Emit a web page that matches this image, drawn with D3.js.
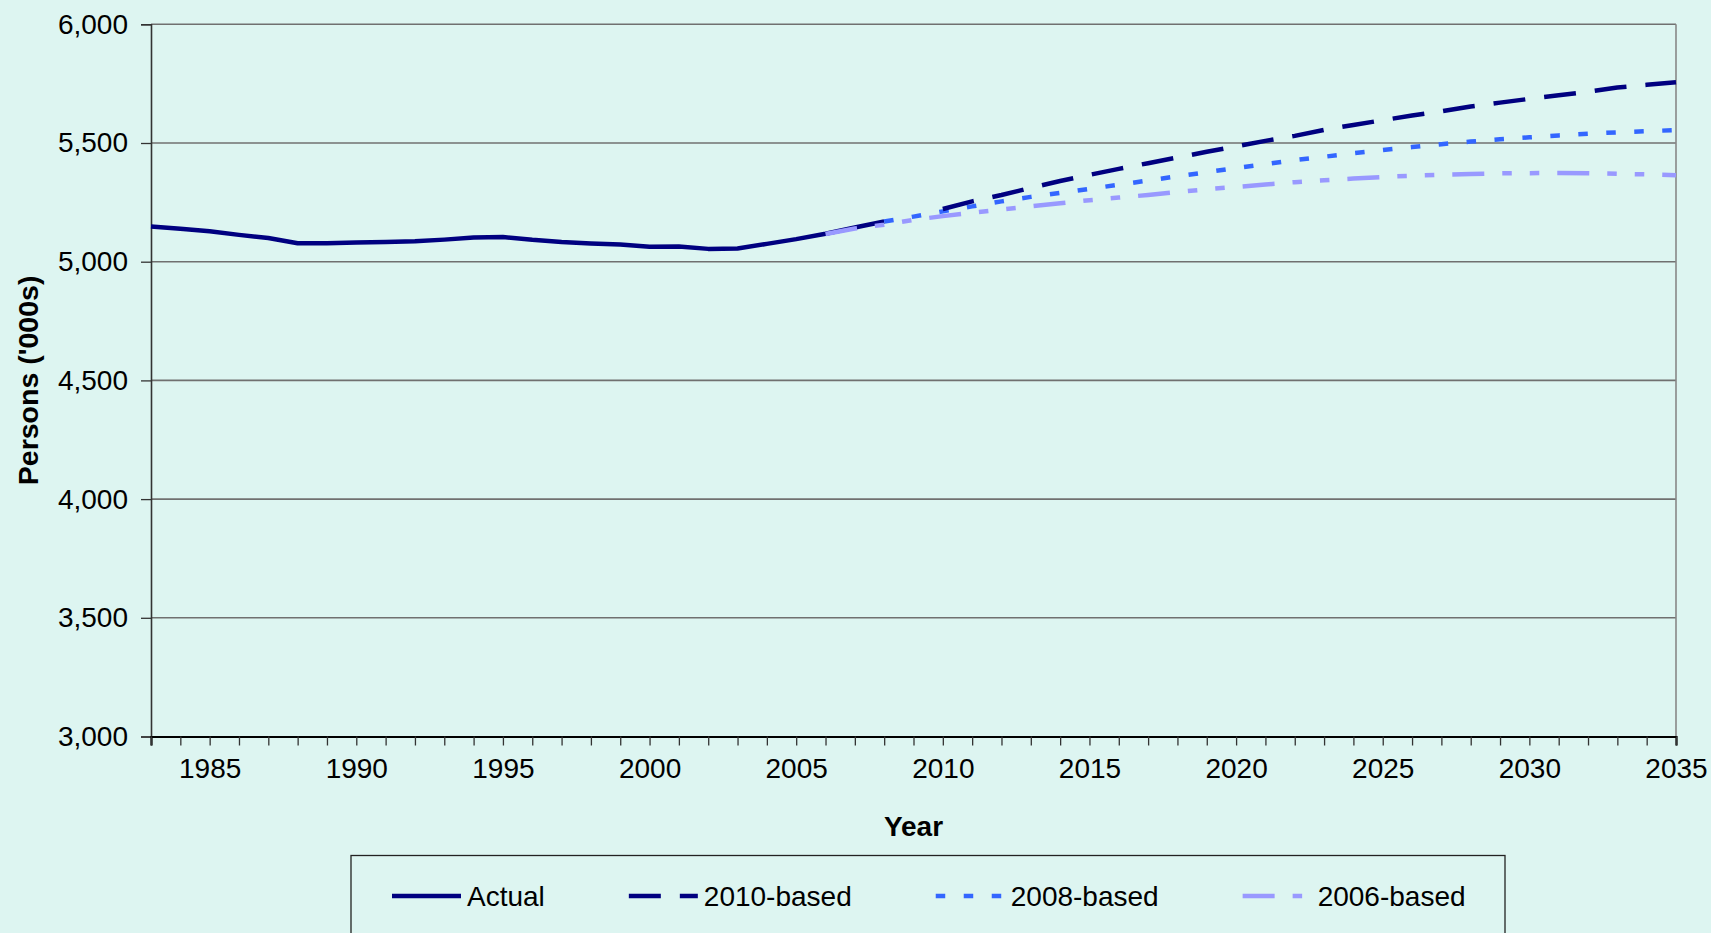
<!DOCTYPE html>
<html>
<head>
<meta charset="utf-8">
<script src="https://cdn.jsdelivr.net/npm/d3@7/dist/d3.min.js"></script>
<style>
  html, body { margin: 0; padding: 0; background: #DDF5F1; }
  svg { display: block; }
  text { font-family: "Liberation Sans", Arial, sans-serif; fill: #000; }
</style>
</head>
<body>
<svg id="chart" width="1711" height="933"></svg>
<script>
// ---- Data ----
const actualYears = [1983,1984,1985,1986,1987,1988,1989,1990,1991,1992,1993,1994,1995,1996,1997,1998,1999,2000,2001,2002,2003,2004,2005,2006,2007,2008];
const actualValues = [5148,5139,5128,5113,5100,5078,5078,5081,5083,5086,5093,5102,5104,5092,5083,5077,5072,5063,5064,5054,5056,5075,5095,5118,5144,5169];

const proj2010Years = [2010,2011,2012,2013,2014,2015,2016,2017,2018,2019,2020,2021,2022,2023,2024,2025,2026,2027,2028,2029,2030,2031,2032,2033,2034,2035];
const proj2010Values = [5222,5254,5281,5311,5340,5366,5391,5415,5439,5463,5486,5509,5530,5555,5576,5596,5616,5634,5654,5670,5686,5701,5716,5734,5745,5756];

const proj2008Years = [2008,2009,2010,2011,2012,2013,2014,2015,2016,2017,2018,2019,2020,2021,2022,2023,2024,2025,2026,2027,2028,2029,2030,2031,2032,2033,2034,2035];
const proj2008Values = [5169,5190,5212,5233,5254,5273,5290,5307,5324,5342,5360,5377,5395,5411,5428,5442,5457,5470,5483,5495,5506,5516,5524,5532,5539,5545,5550,5554];

const proj2006Years = [2006,2007,2008,2009,2010,2011,2012,2013,2014,2015,2016,2017,2018,2019,2020,2021,2022,2023,2024,2025,2026,2027,2028,2029,2030,2031,2032,2033,2034,2035];
const proj2006Values = [5117,5140,5156,5176,5192,5206,5220,5233,5246,5259,5270,5281,5294,5305,5315,5325,5335,5343,5350,5357,5362,5366,5369,5372,5373,5374,5373,5370,5368,5364];

const seriesNames = ["Actual","2010-based","2008-based","2006-based"];
const yTickValues = [3000,3500,4000,4500,5000,5500,6000];
const xLabelYears = [1985,1990,1995,2000,2005,2010,2015,2020,2025,2030,2035];
const xDomain = [1983, 2035];
const yDomain = [3000, 6000];
const xTitle = "Year";
const yTitle = "Persons ('000s)";

// ---- Styles ----
const styles = [
  { color: "#000080", dash: null },
  { color: "#000080", dash: "32,19" },
  { color: "#3366FF", dash: "9.5,18.5" },
  { color: "#9999FF", dash: "32,18,9.5,18,9.5,18" }
];

const series = [
  { years: actualYears, values: actualValues },
  { years: proj2010Years, values: proj2010Values },
  { years: proj2008Years, values: proj2008Values },
  { years: proj2006Years, values: proj2006Values }
];

const svg = d3.select("#chart");
const W = 1711, H = 933;
const m = { left: 151, right: W - 1676, top: 24.3, bottom: H - 736.5 };
const FS = 28;

const x = d3.scaleLinear().domain(xDomain).range([m.left, W - m.right]);
const y = d3.scaleLinear().domain(yDomain).range([H - m.bottom, m.top]);

svg.append("rect").attr("width", W).attr("height", H).attr("fill", "#DDF5F1");

// gridlines
svg.append("g")
  .selectAll("line")
  .data(yTickValues.filter(v => v > yDomain[0]))
  .join("line")
  .attr("x1", x(xDomain[0])).attr("x2", x(xDomain[1]))
  .attr("y1", d => y(d)).attr("y2", d => y(d))
  .attr("stroke", "#707070").attr("stroke-width", 1.6);

// right border of plot
svg.append("line")
  .attr("x1", x(xDomain[1])).attr("x2", x(xDomain[1]))
  .attr("y1", y(yDomain[1])).attr("y2", y(yDomain[0]))
  .attr("stroke", "#888").attr("stroke-width", 1.6);

// y axis
const yAxis = d3.axisLeft(y)
  .tickValues(yTickValues)
  .tickSize(10)
  .tickPadding(13)
  .tickFormat(d3.format(","));
const gy = svg.append("g").attr("transform", `translate(${m.left},0)`).call(yAxis);
gy.select(".domain").attr("stroke", "#333").attr("stroke-width", 1.6);
gy.selectAll(".tick line").attr("stroke", "#333").attr("stroke-width", 1.3);
gy.selectAll(".tick text").attr("font-size", FS).attr("font-family", "Liberation Sans, Arial, sans-serif").attr("fill", "#000");

// x axis: ticks every year, labels every 5 years
const allYears = d3.range(xDomain[0], xDomain[1] + 1);
const xAxis = d3.axisBottom(x)
  .tickValues(allYears)
  .tickSize(9)
  .tickPadding(13)
  .tickFormat(d => xLabelYears.includes(d) ? String(d) : "");
const gx = svg.append("g").attr("transform", `translate(0,${y(yDomain[0])})`).call(xAxis);
gx.select(".domain").attr("stroke", "#000").attr("stroke-width", 2.2);
gx.selectAll(".tick line").attr("stroke", "#333").attr("stroke-width", 1.3);
gx.selectAll(".tick text").attr("font-size", FS).attr("font-family", "Liberation Sans, Arial, sans-serif").attr("fill", "#000");

// titles
svg.append("text")
  .attr("x", (x(xDomain[0]) + x(xDomain[1])) / 2)
  .attr("y", 826)
  .attr("dy", "0.35em")
  .attr("text-anchor", "middle")
  .attr("font-size", FS).attr("font-weight", "bold")
  .text(xTitle);

svg.append("text")
  .attr("transform", `translate(28,${(y(yDomain[0]) + y(yDomain[1])) / 2}) rotate(-90)`)
  .attr("dy", "0.35em")
  .attr("text-anchor", "middle")
  .attr("font-size", 28.5).attr("font-weight", "bold")
  .text(yTitle);

// lines
const line = d3.line().x(d => x(d[0])).y(d => y(d[1]));
const order = [0, 3, 2, 1];
order.forEach(i => {
  const s = series[i];
  const pts = s.years.map((yr, k) => [yr, s.values[k]]);
  svg.append("path")
    .datum(pts)
    .attr("d", line)
    .attr("fill", "none")
    .attr("stroke", styles[i].color)
    .attr("stroke-width", 4.5)
    .attr("stroke-linejoin", "round")
    .attr("stroke-dasharray", styles[i].dash);
});

// legend
const legendBox = { x: 351, y: 855.5, w: 1154, h: 120 };
svg.append("rect")
  .attr("x", legendBox.x).attr("y", legendBox.y)
  .attr("width", legendBox.w).attr("height", legendBox.h)
  .attr("fill", "#DDF5F1").attr("stroke", "#222").attr("stroke-width", 1.3);

const symLen = 69, textOff = 75, entryGap = 84;
let lx = 392;
const ly = 896;
seriesNames.forEach((name, i) => {
  svg.append("line")
    .attr("x1", lx).attr("x2", lx + symLen)
    .attr("y1", ly).attr("y2", ly)
    .attr("stroke", styles[i].color).attr("stroke-width", 4.5)
    .attr("stroke-dasharray", styles[i].dash);
  const t = svg.append("text")
    .attr("x", lx + textOff).attr("y", ly)
    .attr("dy", "0.35em")
    .attr("font-size", FS)
    .text(name);
  lx += textOff + t.node().getComputedTextLength() + entryGap;
});
</script>
</body>
</html>
